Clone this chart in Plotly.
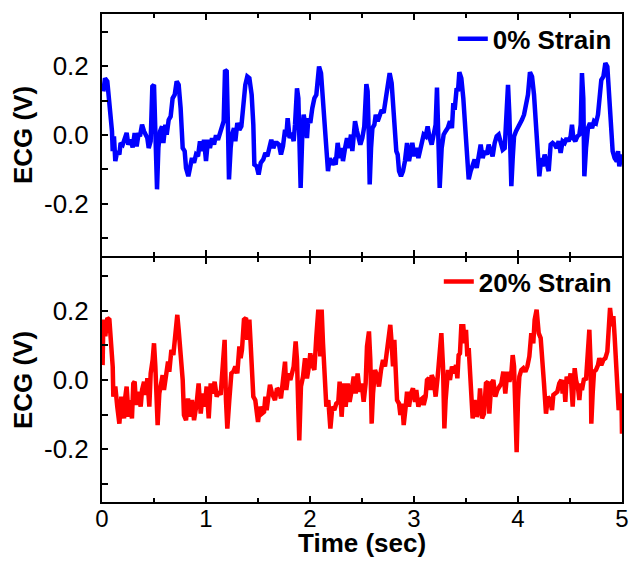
import plotly.graph_objects as go
from plotly.subplots import make_subplots

# 0% strain (top panel)
t_0 = [0.013, 0.029, 0.051, 0.071, 0.083, 0.096, 0.103, 0.115, 0.128, 0.147, 0.167, 0.179, 0.199, 0.221, 0.237, 0.253, 0.276, 0.295, 0.314, 0.333,
       0.353, 0.365, 0.385, 0.404, 0.423, 0.436, 0.449, 0.468, 0.484, 0.5, 0.513, 0.529, 0.542, 0.558, 0.577, 0.59, 0.609, 0.622, 0.641, 0.66,
       0.679, 0.699, 0.718, 0.737, 0.756, 0.776, 0.795, 0.808, 0.83, 0.846, 0.865, 0.885, 0.904, 0.923, 0.942, 0.962, 0.981, 1.0, 1.019, 1.038,
       1.058, 1.077, 1.096, 1.115, 1.135, 1.154, 1.17, 1.183, 1.199, 1.212, 1.221, 1.237, 1.25, 1.269, 1.282, 1.301, 1.321, 1.34, 1.359, 1.378,
       1.397, 1.417, 1.439, 1.455, 1.465, 1.487, 1.506, 1.526, 1.551, 1.571, 1.59, 1.609, 1.628, 1.647, 1.667, 1.683, 1.702, 1.721, 1.74, 1.76,
       1.772, 1.785, 1.804, 1.824, 1.843, 1.856, 1.875, 1.888, 1.901, 1.91, 1.926, 1.939, 1.958, 1.971, 1.984, 2.003, 2.022, 2.042, 2.061, 2.074,
       2.087, 2.106, 2.125, 2.144, 2.157, 2.173, 2.189, 2.208, 2.228, 2.247, 2.266, 2.285, 2.304, 2.317, 2.337, 2.356, 2.375, 2.394, 2.407, 2.42,
       2.433, 2.452, 2.465, 2.484, 2.503, 2.522, 2.542, 2.554, 2.564, 2.574, 2.587, 2.6, 2.619, 2.632, 2.651, 2.67, 2.689, 2.708, 2.728, 2.747,
       2.766, 2.785, 2.804, 2.817, 2.83, 2.843, 2.856, 2.875, 2.894, 2.913, 2.933, 2.952, 2.971, 2.984, 3.003, 3.022, 3.042, 3.061, 3.08, 3.093,
       3.112, 3.131, 3.151, 3.17, 3.189, 3.208, 3.221, 3.234, 3.247, 3.266, 3.285, 3.304, 3.324, 3.346, 3.365, 3.378, 3.391, 3.41, 3.423, 3.436,
       3.455, 3.474, 3.494, 3.513, 3.526, 3.545, 3.564, 3.583, 3.603, 3.622, 3.641, 3.66, 3.679, 3.699, 3.718, 3.737, 3.756, 3.776, 3.795, 3.814,
       3.833, 3.853, 3.872, 3.891, 3.904, 3.917, 3.929, 3.936, 3.949, 3.962, 3.981, 4.0, 4.019, 4.038, 4.058, 4.077, 4.096, 4.115, 4.135, 4.154,
       4.173, 4.186, 4.205, 4.224, 4.237, 4.256, 4.276, 4.295, 4.314, 4.333, 4.353, 4.372, 4.391, 4.41, 4.429, 4.449, 4.468, 4.487, 4.506, 4.519,
       4.532, 4.551, 4.571, 4.59, 4.603, 4.615, 4.628, 4.638, 4.654, 4.673, 4.692, 4.712, 4.731, 4.75, 4.769, 4.788, 4.801, 4.821, 4.84, 4.859,
       4.878, 4.897, 4.91, 4.929, 4.949, 4.962, 4.974, 4.994, 5.0]
ecg_0 = [0.127, 0.165, 0.156, 0.098, 0.049, 0.011, -0.047, -0.004, -0.076, -0.047, -0.057, -0.023, -0.028, -0.009, 0.006, -0.028, -0.014, -0.036, 0.006, -0.033,
         0.006, -0.004, 0.03, 0.011, -0.001, -0.009, -0.038, -0.018, 0.141, 0.146, 0.011, -0.158, -0.038, 0.011, 0.025, -0.023, 0.03, 0.001, 0.044, 0.054,
         0.107, 0.117, 0.156, 0.146, 0.078, -0.038, -0.047, -0.096, -0.12, -0.086, -0.067, -0.081, -0.057, -0.062, -0.018, -0.047, -0.014, -0.076, -0.014, -0.038,
         -0.009, -0.028, -0.001, -0.014, 0.006, 0.015, 0.04, 0.189, 0.185, 0.011, -0.129, -0.038, 0.001, 0.02, -0.018, 0.035, 0.015, 0.025, 0.098, 0.146,
         0.17, 0.165, 0.117, 0.03, -0.086, -0.091, -0.115, -0.081, -0.071, -0.052, -0.062, -0.038, -0.014, -0.038, -0.023, -0.023, -0.028, -0.057, -0.033, 0.015,
         -0.004, 0.049, -0.009, 0.006, -0.018, 0.03, 0.136, 0.107, -0.038, -0.154, 0.001, 0.059, 0.025, -0.009, 0.049, 0.035, 0.078, 0.107, 0.117, 0.146,
         0.199, 0.18, 0.107, 0.02, -0.057, -0.105, -0.067, -0.086, -0.076, -0.086, -0.023, -0.067, -0.038, -0.076, -0.038, -0.009, -0.038, 0.001, -0.047, 0.006,
         0.04, 0.011, -0.009, -0.028, -0.009, 0.025, 0.148, 0.127, 0.011, -0.144, -0.038, 0.02, 0.03, 0.059, 0.04, 0.059, 0.073, 0.064, 0.107, 0.146,
         0.18, 0.151, 0.069, 0.001, -0.047, -0.057, -0.105, -0.12, -0.105, -0.076, -0.023, -0.076, -0.038, -0.023, -0.062, -0.038, -0.067, -0.043, -0.028, 0.001,
         -0.004, 0.025, -0.009, -0.028, 0.001, 0.03, 0.138, 0.011, -0.154, -0.038, 0.001, 0.011, 0.02, 0.04, 0.02, 0.093, 0.073, 0.136, 0.127, 0.183,
         0.165, 0.107, 0.011, -0.076, -0.129, -0.105, -0.086, -0.071, -0.096, -0.067, -0.028, -0.067, -0.047, -0.057, -0.028, -0.047, -0.062, -0.023, -0.004, 0.001,
         -0.028, -0.043, -0.038, 0.059, 0.146, 0.059, -0.038, -0.149, -0.067, -0.004, 0.011, 0.02, 0.035, 0.044, 0.059, 0.088, 0.117, 0.183, 0.17, 0.117,
         0.03, -0.038, -0.12, -0.067, -0.091, -0.057, -0.081, -0.105, -0.028, -0.023, -0.028, -0.038, -0.018, -0.052, -0.018, -0.023, -0.009, -0.018, -0.004, 0.03,
         -0.009, -0.018, -0.004, 0.001, 0.03, 0.18, 0.107, -0.12, -0.038, 0.02, 0.035, 0.02, 0.04, 0.035, 0.059, 0.117, 0.16, 0.17, 0.209, 0.199,
         0.107, 0.03, -0.047, -0.067, -0.076, -0.047, -0.091, -0.057, -0.067]

# 20% strain (bottom panel)
t_20 = [0.006, 0.013, 0.032, 0.051, 0.071, 0.09, 0.103, 0.109, 0.128, 0.147, 0.167, 0.186, 0.199, 0.212, 0.224, 0.237, 0.256, 0.269, 0.288, 0.301,
        0.314, 0.327, 0.346, 0.359, 0.372, 0.385, 0.404, 0.423, 0.436, 0.455, 0.468, 0.487, 0.5, 0.513, 0.526, 0.535, 0.551, 0.571, 0.583, 0.596,
        0.615, 0.635, 0.647, 0.667, 0.686, 0.705, 0.724, 0.737, 0.756, 0.776, 0.788, 0.808, 0.827, 0.846, 0.865, 0.885, 0.91, 0.929, 0.949, 0.968,
        0.987, 1.006, 1.026, 1.045, 1.064, 1.083, 1.103, 1.122, 1.141, 1.167, 1.179, 1.192, 1.205, 1.224, 1.244, 1.263, 1.282, 1.301, 1.321, 1.333,
        1.346, 1.365, 1.385, 1.397, 1.417, 1.429, 1.442, 1.455, 1.474, 1.487, 1.5, 1.519, 1.538, 1.558, 1.571, 1.583, 1.603, 1.615, 1.635, 1.663,
        1.683, 1.702, 1.721, 1.74, 1.76, 1.772, 1.792, 1.811, 1.824, 1.843, 1.862, 1.875, 1.888, 1.897, 1.913, 1.933, 1.952, 1.971, 1.99, 2.003,
        2.022, 2.042, 2.061, 2.08, 2.099, 2.112, 2.125, 2.144, 2.157, 2.176, 2.196, 2.215, 2.234, 2.253, 2.272, 2.285, 2.304, 2.324, 2.343, 2.362,
        2.381, 2.401, 2.42, 2.439, 2.458, 2.478, 2.497, 2.516, 2.535, 2.548, 2.567, 2.58, 2.593, 2.606, 2.625, 2.644, 2.663, 2.683, 2.702, 2.721,
        2.74, 2.753, 2.772, 2.785, 2.798, 2.811, 2.824, 2.837, 2.856, 2.869, 2.888, 2.901, 2.92, 2.933, 2.952, 2.971, 2.99, 3.01, 3.022, 3.042,
        3.061, 3.08, 3.093, 3.112, 3.125, 3.144, 3.157, 3.17, 3.189, 3.208, 3.228, 3.247, 3.263, 3.279, 3.292, 3.304, 3.317, 3.327, 3.346, 3.365,
        3.385, 3.404, 3.417, 3.429, 3.442, 3.455, 3.474, 3.487, 3.5, 3.513, 3.526, 3.538, 3.551, 3.564, 3.583, 3.603, 3.622, 3.635, 3.654, 3.673,
        3.692, 3.712, 3.724, 3.744, 3.763, 3.782, 3.801, 3.821, 3.84, 3.859, 3.878, 3.897, 3.917, 3.936, 3.949, 3.962, 3.974, 3.987, 4.0, 4.013,
        4.032, 4.051, 4.071, 4.09, 4.109, 4.128, 4.147, 4.16, 4.179, 4.199, 4.218, 4.231, 4.25, 4.269, 4.288, 4.308, 4.327, 4.34, 4.359, 4.378,
        4.397, 4.417, 4.429, 4.442, 4.455, 4.468, 4.487, 4.506, 4.526, 4.545, 4.558, 4.577, 4.59, 4.603, 4.615, 4.635, 4.654, 4.673, 4.686, 4.699,
        4.705, 4.718, 4.731, 4.75, 4.769, 4.782, 4.801, 4.821, 4.84, 4.859, 4.872, 4.885, 4.904, 4.917, 4.929, 4.942, 4.955, 4.968, 4.981, 4.994,
        5.0]
ecg_20 = [0.043, 0.174, 0.126, 0.179, 0.174, 0.106, 0.039, -0.048, -0.019, -0.077, -0.126, -0.048, -0.097, -0.111, -0.048, -0.019, -0.106, -0.058, -0.111, -0.01,
          -0.005, -0.072, -0.034, -0.058, -0.077, -0.029, -0.005, -0.043, 0.005, -0.077, 0.019, 0.058, 0.106, 0.039, -0.058, -0.13, -0.039, 0.0, 0.014, -0.029,
          0.019, 0.053, 0.024, 0.087, 0.072, 0.126, 0.188, 0.145, 0.077, 0.0, -0.101, -0.116, -0.053, -0.106, -0.058, -0.116, -0.068, -0.01, -0.097, -0.039,
          -0.077, -0.019, -0.111, -0.01, -0.039, -0.005, -0.048, -0.034, -0.043, 0.106, 0.116, -0.058, -0.14, -0.058, 0.019, 0.024, 0.039, 0.019, 0.097, 0.063,
          0.087, 0.174, 0.179, 0.116, 0.174, 0.106, 0.039, -0.048, -0.058, -0.097, -0.121, -0.077, -0.097, -0.092, -0.048, -0.087, -0.048, -0.014, -0.039, -0.058,
          -0.024, -0.029, -0.053, 0.0, 0.053, -0.029, 0.019, 0.0, 0.024, 0.039, 0.111, 0.058, -0.087, -0.174, -0.019, 0.01, 0.063, 0.005, 0.039, 0.077,
          0.043, 0.029, 0.126, 0.203, 0.068, 0.203, 0.106, -0.029, -0.077, -0.058, -0.14, -0.077, -0.087, -0.068, -0.063, -0.005, -0.106, -0.01, -0.077, -0.01,
          -0.063, -0.029, 0.01, -0.039, 0.019, -0.034, -0.01, -0.063, -0.01, 0.097, 0.14, 0.058, -0.126, -0.039, 0.029, 0.014, -0.019, 0.029, 0.058, 0.039,
          0.087, 0.116, 0.159, 0.106, 0.039, 0.116, 0.039, -0.058, -0.068, -0.101, -0.068, -0.13, -0.077, -0.034, -0.077, -0.039, -0.024, -0.063, -0.029, -0.077,
          -0.058, -0.053, -0.072, -0.048, 0.0, 0.005, -0.029, 0.014, 0.0, -0.048, 0.01, 0.087, 0.135, 0.039, -0.14, -0.058, -0.01, 0.029, 0.0, 0.039,
          0.019, 0.043, 0.005, 0.072, 0.077, 0.155, 0.155, 0.106, 0.145, 0.068, 0.092, 0.029, -0.039, -0.111, -0.058, -0.106, -0.087, -0.024, -0.111, -0.097,
          -0.01, -0.005, -0.097, -0.01, 0.0, -0.048, -0.029, -0.019, -0.01, 0.024, -0.039, 0.024, -0.005, 0.019, 0.072, 0.039, -0.058, -0.208, -0.058, 0.01,
          0.029, 0.034, 0.024, 0.039, 0.068, 0.135, 0.106, 0.174, 0.203, 0.135, 0.121, 0.048, -0.01, -0.097, -0.048, -0.058, -0.087, -0.043, -0.039, -0.034,
          -0.01, 0.0, -0.039, 0.0, -0.063, 0.01, -0.01, 0.019, -0.077, 0.034, 0.0, -0.024, -0.058, -0.01, -0.029, 0.005, 0.0, 0.087, 0.145, 0.039,
          -0.126, -0.039, 0.024, 0.029, 0.043, 0.063, 0.043, 0.058, 0.063, 0.082, 0.135, 0.208, 0.155, 0.184, 0.126, 0.068, -0.01, -0.087, -0.058, -0.039,
          -0.155]

FONT = "Liberation Sans, Arial, sans-serif"

fig = make_subplots(rows=2, cols=1, shared_xaxes=True, vertical_spacing=0)

fig.add_trace(go.Scatter(x=t_0, y=ecg_0, mode="lines", name="0% Strain",
                         line=dict(color="#0000ff", width=4.5), legend="legend"), row=1, col=1)
fig.add_trace(go.Scatter(x=t_20, y=ecg_20, mode="lines", name="20% Strain",
                         line=dict(color="#ff0000", width=4.5), legend="legend2"), row=2, col=1)

xax = dict(range=[0, 5], showline=True, linecolor="black", linewidth=2, mirror="ticks",
           ticks="inside", ticklen=6, tickwidth=2, tickcolor="black", dtick=1, tick0=0,
           minor=dict(dtick=0.5, ticks="inside", ticklen=4, tickwidth=2, tickcolor="black"),
           showgrid=False, zeroline=False, automargin=False)
fig.update_xaxes(**xax)
fig.update_xaxes(showticklabels=False, row=1, col=1)
fig.update_xaxes(tickfont=dict(family=FONT, size=24, color="black"), ticklabelstandoff=-6, row=2, col=1)

yax = dict(range=[-0.352, 0.352], showline=True, linecolor="black", linewidth=2, mirror=True,
           ticks="inside", ticklen=6, tickwidth=2, tickcolor="black",
           tickvals=[-0.2, 0, 0.2], ticktext=["-0.2", "0.0", "0.2"],
           minor=dict(tickvals=[-0.3, -0.1, 0.1, 0.3], ticks="inside", ticklen=6, tickwidth=2, tickcolor="black"),
           tickfont=dict(family=FONT, size=26, color="black"), ticklabelstandoff=6,
           title=dict(text="ECG (V)", font=dict(family=FONT, size=26, color="black", weight="bold"), standoff=4),
           showgrid=False, zeroline=False, automargin=False)
fig.update_yaxes(**yax)

# x title as a paper annotation sitting at the bottom edge
fig.add_annotation(text="Time (sec)", xref="paper", yref="paper", x=0.5, y=-0.119,
                   xanchor="center", yanchor="bottom", showarrow=False,
                   font=dict(family=FONT, size=26, color="black", weight="bold"))

fig.update_layout(
    width=631, height=561,
    margin=dict(l=102, r=9, t=14, b=59),
    plot_bgcolor="white", paper_bgcolor="white",
    yaxis=dict(domain=[0.5041, 1]),
    yaxis2=dict(domain=[0, 0.5]),
    showlegend=True,
    legend=dict(x=0.99, y=0.997, xanchor="right", yanchor="top", bgcolor="rgba(0,0,0,0)",
                font=dict(family=FONT, size=26, color="black", weight="bold")),
    legend2=dict(x=0.99, y=0.5, xanchor="right", yanchor="top", bgcolor="rgba(0,0,0,0)",
                 font=dict(family=FONT, size=26, color="black", weight="bold")),
)

fig.write_html("out.html", config={"displayModeBar": False},
               post_script="document.body.style.margin='0';")
